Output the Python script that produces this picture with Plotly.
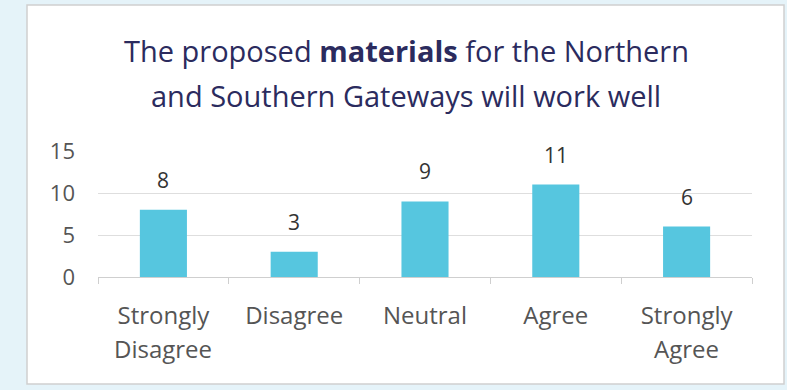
import plotly.graph_objects as go

categories = ["Strongly Disagree", "Disagree", "Neutral", "Agree", "Strongly Agree"]
values = [8, 3, 9, 11, 6]
y_ticks = [0, 5, 10, 15]
title_line1 = "The proposed <b>materials</b> for the Northern"
title_line2 = "and Southern Gateways will work well"

W, H = 787, 390
L, R, T, B = 98, 35, 151, 113
pw, ph = W - L - R, H - T - B

def px_x(p):
    return (p - L) / pw

def px_y(p):
    return (H - B - p) / ph

line1 = [c.split(" ")[0] for c in categories]
line2 = [" ".join(c.split(" ")[1:]) for c in categories]

FONT = "Open Sans"
fig = go.Figure()
fig.add_trace(go.Bar(
    x=categories, y=values,
    marker=dict(color="#56c6df", line=dict(width=0)),
    width=0.36,
    hoverinfo="skip",
))

annotations = []
for c, v in zip(categories, values):
    annotations.append(dict(x=c, y=v, xref="x", yref="y", text=str(v), showarrow=False,
                            yanchor="middle", yshift=30,
                            font=dict(family=FONT, size=21, color="#333333")))
for c, l2 in zip(categories, line2):
    if l2:
        annotations.append(dict(x=c, y=px_y(348), xref="x", yref="paper", text=l2, showarrow=False,
                                yanchor="middle",
                                font=dict(family=FONT, size=24, color="#555555")))
annotations.append(dict(x=px_x(406), y=px_y(51), xref="paper", yref="paper", text=title_line1,
                        showarrow=False, xanchor="center", yanchor="middle",
                        font=dict(family=FONT, size=29, color="#2b2b5e")))
annotations.append(dict(x=px_x(406), y=px_y(95), xref="paper", yref="paper", text=title_line2,
                        showarrow=False, xanchor="center", yanchor="middle",
                        font=dict(family=FONT, size=29, color="#2b2b5e")))

fig.update_layout(
    width=W, height=H,
    margin=dict(l=L, r=R, t=T, b=B, pad=0),
    paper_bgcolor="#e5f3f9",
    plot_bgcolor="rgba(0,0,0,0)",
    showlegend=False,
    annotations=annotations,
    shapes=[dict(type="rect", xref="paper", yref="paper",
                 x0=px_x(27), x1=px_x(784), y0=px_y(384), y1=px_y(5),
                 fillcolor="white", line=dict(color="#d0d0d0", width=1.5), layer="below")],
    xaxis=dict(
        tickmode="array", tickvals=categories, ticktext=line1,
        tickfont=dict(family=FONT, size=24, color="#555555"),
        showgrid=False, showline=True, linecolor="#cfcfcf", linewidth=1,
        ticks="outside", tickson="boundaries", ticklen=6, tickcolor="#cfcfcf",
        ticklabelstandoff=17,
    ),
    yaxis=dict(
        range=[0, 15], tickvals=y_ticks,
        tickfont=dict(family=FONT, size=22, color="#555555"),
        showgrid=True, gridcolor="#dedede", gridwidth=1,
        zeroline=False, showline=False, ticks="", ticklabelstandoff=22,
    ),
)

fig.write_html("out.html")
